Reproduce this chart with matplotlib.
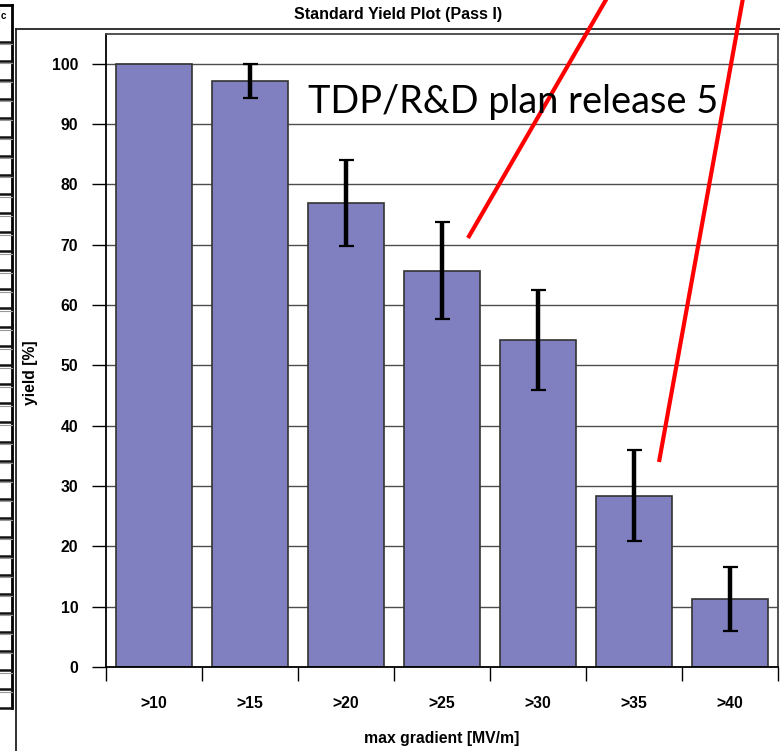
import numpy as np
import matplotlib
matplotlib.use("Agg")
import matplotlib.pyplot as plt
from matplotlib.lines import Line2D

# data
categories = [">10", ">15", ">20", ">25", ">30", ">35", ">40"]
yield_pct = [100.0, 97.1, 76.9, 65.7, 54.2, 28.4, 11.3]
yield_err = [0.0, 2.8, 7.1, 8.0, 8.3, 7.5, 5.3]
y_ticks = [0, 10, 20, 30, 40, 50, 60, 70, 80, 90, 100]

W, H = 780, 751

def fx(px):
    return px / W

def fy(py):
    # pixel row from top -> figure fraction
    return 1 - py / H

plt.rcParams['font.family'] = ['Liberation Sans', 'DejaVu Sans']
plt.rcParams['font.weight'] = 'bold'

fig = plt.figure(figsize=(W / 100, H / 100), dpi=100)
fig.patch.set_facecolor('white')
ax = fig.add_axes([fx(106), fy(667), fx(778) - fx(106), fy(33.6) - fy(667)])

x = np.arange(len(categories))
ax.set_axisbelow(True)
ax.yaxis.grid(True, color='#4d4d4d', lw=1.0)
ax.bar(x, yield_pct, width=0.8, color='#8080c0', edgecolor='#333333', lw=1.2, zorder=2)

# only draw error bars where there is an error
err = np.array(yield_err)
has_err = err > 0
ax.errorbar(x[has_err], np.array(yield_pct)[has_err], yerr=err[has_err], fmt='none',
            ecolor='black', elinewidth=3.2, capsize=5.4, capthick=1.6, zorder=3)

ax.set_xlim(-0.5, len(categories) - 0.5)
ax.set_ylim(0, 105)
ax.set_yticks(y_ticks)
ax.set_yticklabels([str(t) for t in y_ticks], fontsize=11.3, fontweight='bold')
ax.tick_params(axis='y', length=10, width=1.0, pad=10, color='black')

ax.set_xticks(x)
ax.set_xticklabels(categories, fontsize=11.3, fontweight='bold')
ax.set_xticks(np.arange(len(categories) + 1) - 0.5, minor=True)
ax.tick_params(axis='x', which='major', length=0, pad=21)
ax.tick_params(axis='x', which='minor', length=10, width=1.0, color='black')

for s in ['left', 'bottom']:
    ax.spines[s].set_color('black')
    ax.spines[s].set_linewidth(1.3)
for s in ['top', 'right']:
    ax.spines[s].set_color('#444444')
    ax.spines[s].set_linewidth(1.3)

fig.text(fx(398), fy(14.5), "Standard Yield Plot (Pass I)", ha='center', va='center',
         fontsize=11.5, fontweight='bold')
fig.text(fx(442), fy(739), "max gradient [MV/m]", ha='center', va='center',
         fontsize=11.3, fontweight='bold')
fig.text(fx(30), fy(373), "yield [%]", ha='center', va='center', rotation=90,
         fontsize=11.3, fontweight='bold')

# chart area frame
fig.add_artist(Line2D([fx(16), fx(16)], [fy(29), fy(760)], color='#222222', lw=1.3))
fig.add_artist(Line2D([fx(16), fx(790)], [fy(29), fy(29)], color='#222222', lw=1.3))

# table fragment on the left side of the slide
fig.add_artist(Line2D([fx(12), fx(12)], [fy(5), fy(708)], color='black', lw=2))
fig.add_artist(Line2D([fx(-2), fx(12)], [fy(5), fy(5)], color='black', lw=2))
for k in range(36):
    yy = 41.7 + k * 19.04
    fig.add_artist(Line2D([fx(-2), fx(12)], [fy(yy), fy(yy)], color='#111111', lw=1.8))
    if k < 35:
        fig.add_artist(Line2D([fx(-2), fx(12)], [fy(yy + 2.5), fy(yy + 2.5)], color='#999999', lw=0.8))
fig.text(fx(1), fy(16), "c", ha='left', va='center', fontsize=7, fontweight='bold')

# annotation overlay
fig.text(fx(308), fy(113), "TDP/R&D plan release 5", ha='left', va='baseline',
         fontsize=27.3, fontweight='normal', family=['Lato', 'DejaVu Sans'])
fig.add_artist(Line2D([fx(607), fx(468)], [fy(-2), fy(238)], color='#ff0000', lw=3,
                      solid_capstyle='butt'))
fig.add_artist(Line2D([fx(743), fx(659)], [fy(-2), fy(462)], color='#ff0000', lw=3,
                      solid_capstyle='butt'))

fig.savefig("out.png", dpi=100)
